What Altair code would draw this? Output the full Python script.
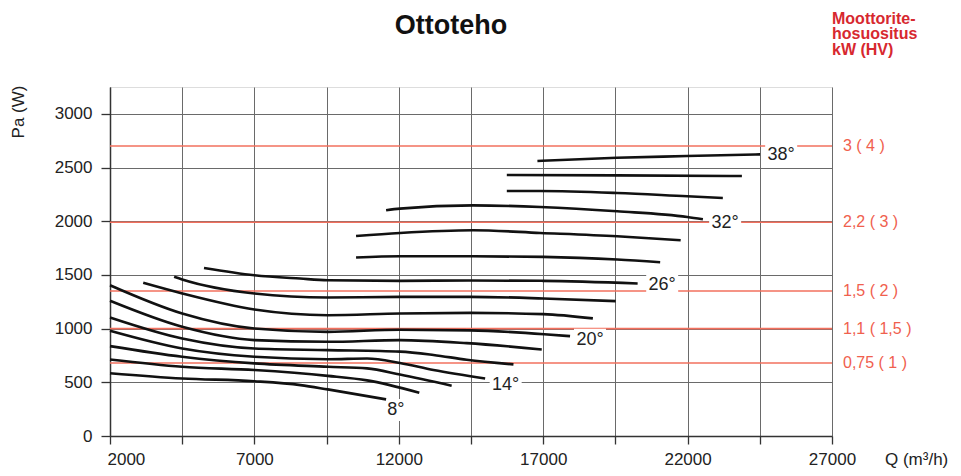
import altair as alt
import pandas as pd

# ---- data ----
curve_names = ["8°", "10°", "12°", "14°", "16°", "18°", "20°", "22°",
               "24°", "26°", "28°", "30°", "32°", "34°", "36°", "38°"]

q_8 = [2000, 4500, 7000, 8600, 9540, 11560]
pa_8 = [585, 536, 510, 474, 434, 341]
q_10 = [2000, 4500, 7000, 9540, 10900, 12710]
pa_10 = [713, 645, 614, 560, 518, 403]
q_12 = [2000, 4500, 7000, 9540, 10900, 12040, 13830]
pa_12 = [837, 738, 676, 645, 630, 572, 468]
q_14 = [2000, 4500, 7000, 9540, 10900, 12040, 13200, 14990]
pa_14 = [980, 815, 738, 715, 722, 680, 614, 536]
q_16 = [2000, 4500, 7000, 9540, 12040, 13200, 14350, 15970]
pa_16 = [1104, 908, 815, 800, 786, 755, 710, 667]
q_18 = [2000, 4500, 7000, 9540, 12040, 14350, 16950]
pa_18 = [1259, 1017, 893, 877, 893, 865, 806]
q_20 = [2000, 4500, 7000, 9540, 12040, 14470, 17040, 17930]
pa_20 = [1404, 1141, 1001, 970, 990, 984, 948, 930]
q_22 = [3150, 4500, 7000, 9540, 12040, 14470, 17000, 18720]
pa_22 = [1426, 1327, 1178, 1125, 1141, 1147, 1135, 1095]
q_24 = [4220, 4500, 7000, 9540, 12040, 14470, 17000, 19510]
pa_24 = [1482, 1457, 1327, 1290, 1296, 1296, 1281, 1256]
q_26 = [5255, 7000, 8580, 9540, 12040, 14470, 17000, 20270]
pa_26 = [1565, 1497, 1466, 1451, 1445, 1448, 1445, 1420]
q_28 = [10520, 12040, 14570, 17000, 19560, 21050]
pa_28 = [1662, 1674, 1674, 1668, 1643, 1618]
q_30 = [10520, 12040, 14570, 16900, 19560, 21760]
pa_30 = [1863, 1891, 1916, 1891, 1860, 1823]
q_32 = [11560, 12040, 14570, 16900, 19560, 21990, 22530]
pa_32 = [2102, 2117, 2148, 2133, 2093, 2040, 2018]
q_34 = [15740, 16900, 19560, 21990, 23220]
pa_34 = [2281, 2281, 2263, 2232, 2217]
q_36 = [15740, 19560, 23880]
pa_36 = [2430, 2427, 2421]
q_38 = [16800, 19550, 21970, 24510]
pa_38 = [2561, 2591, 2607, 2623]

curve_q = [q_8, q_10, q_12, q_14, q_16, q_18, q_20, q_22,
           q_24, q_26, q_28, q_30, q_32, q_34, q_36, q_38]
curve_pa = [pa_8, pa_10, pa_12, pa_14, pa_16, pa_18, pa_20, pa_22,
            pa_24, pa_26, pa_28, pa_30, pa_32, pa_34, pa_36, pa_38]

label_text = ["8°", "14°", "20°", "26°", "32°", "38°"]
label_q = [11900, 15700, 18620, 21120, 23300, 25240]
label_pa = [242, 479, 897, 1404, 1981, 2613]

motor_pa = [2700, 1990, 1350, 1000, 680]
motor_text = ["3 ( 4 )", "2,2 ( 3 )", "1,5 ( 2 )", "1,1 ( 1,5 )", "0,75 ( 1 )"]

x_ticks = [2000, 4500, 7000, 9500, 12000, 14500, 17000, 19500, 22000, 24500, 27000]
y_ticks = [0, 500, 1000, 1500, 2000, 2500, 3000]

FONT = "Liberation Sans"

rows = []
for name, qs, ps in zip(curve_names, curve_q, curve_pa):
    for i, (q, p) in enumerate(zip(qs, ps)):
        rows.append({"curve": name, "i": i, "q": q, "pa": p})
curves_df = pd.DataFrame(rows)
labels_df = pd.DataFrame({"t": label_text, "q": label_q, "pa": label_pa})
motor_df = pd.DataFrame({"pa": motor_pa, "t": motor_text})

xscale = alt.Scale(domain=[2000, 27000], nice=False, zero=False)
yscale = alt.Scale(domain=[0, 3250], nice=False, zero=True)

xaxis = alt.Axis(values=x_ticks, format="d",
                 labelExpr="(datum.value - 2000) % 5000 == 0 ? datum.label : ''",
                 title=None, grid=True, gridColor="#6a6a6a", gridWidth=1,
                 tickColor="#333", tickSize=8, tickWidth=1.3,
                 domainColor="#333", domainWidth=1.5,
                 labelFont=FONT, labelFontSize=17, labelColor="#222",
                 labelPadding=7,
                 labelAlign=alt.expr("datum.value == 2000 ? 'left' : 'center'"),
                 labelOffset=alt.expr("datum.value == 2000 ? -3 : 0"))
yaxis = alt.Axis(values=y_ticks, format="d", title=None, grid=True,
                 gridColor="#6a6a6a", gridWidth=1,
                 tickColor="#333", tickSize=9, tickWidth=1.3,
                 domainColor="#333", domainWidth=1.5,
                 labelFont=FONT, labelFontSize=17, labelColor="#222",
                 labelPadding=9)

base_x = alt.X("q:Q", scale=xscale, axis=xaxis)
base_y = alt.Y("pa:Q", scale=yscale, axis=yaxis)

red_rules = alt.Chart(motor_df).mark_rule(color="#f2705e", strokeWidth=1.6).encode(
    y=alt.Y("pa:Q", scale=yscale, axis=yaxis))

boxes = alt.Chart(labels_df).mark_point(
    shape="M-1,-0.6875H1V0.6875H-1Z", filled=True, fill="white",
    opacity=1, strokeWidth=0, size=1024).encode(
    x=alt.X("q:Q", scale=xscale), y=alt.Y("pa:Q", scale=yscale))

lines = alt.Chart(curves_df).mark_line(
    interpolate="monotone", color="#111", strokeWidth=2.6).encode(
    x=base_x, y=base_y, detail="curve:N", order="i:O")

labels = alt.Chart(labels_df).mark_text(
    font=FONT, fontSize=18, color="#222", align="center", baseline="middle").encode(
    x=alt.X("q:Q", scale=xscale), y=alt.Y("pa:Q", scale=yscale), text="t:N")

motor_labels = alt.Chart(motor_df).mark_text(
    font=FONT, fontSize=16, color="#f0604e", align="left", baseline="middle").encode(
    x=alt.value(733), y=alt.Y("pa:Q", scale=yscale), text="t:N")

title = alt.Chart(pd.DataFrame({"t": ["Ottoteho"]})).mark_text(
    font=FONT, fontSize=27, fontWeight="bold", color="#111",
    align="center", baseline="middle").encode(
    x=alt.value(341), y=alt.value(-61), text="t:N")

header = alt.Chart(pd.DataFrame({"t": ["Moottorite-|hosuositus|kW (HV)"]})).mark_text(
    font=FONT, fontSize=16, fontWeight="bold", color="#d7282f", align="left",
    baseline="top", lineBreak="|", lineHeight=15.3).encode(
    x=alt.value(722), y=alt.value(-76), text="t:N")

ytitle = alt.Chart(pd.DataFrame({"t": ["Pa (W)"]})).mark_text(
    font=FONT, fontSize=17, color="#222", angle=270,
    align="center", baseline="middle").encode(
    x=alt.value(-91.5), y=alt.value(25), text="t:N")

xtitle = alt.Chart(pd.DataFrame({"t": ["Q (m³/h)"]})).mark_text(
    font=FONT, fontSize=17, color="#222", align="left", baseline="middle").encode(
    x=alt.value(775), y=alt.value(373), text="t:N")

chart = alt.layer(
    red_rules, boxes, lines, labels, motor_labels, title, header, ytitle, xtitle
).properties(
    width=722, height=349,
    autosize=alt.AutoSizeParams(type="none"),
    padding={"left": 102, "top": 79, "right": 121, "bottom": 32},
).configure_view(stroke="#333", strokeWidth=1.5).configure(background="white")

chart.save("out.html", embed_options={"renderer": "svg", "actions": False})
